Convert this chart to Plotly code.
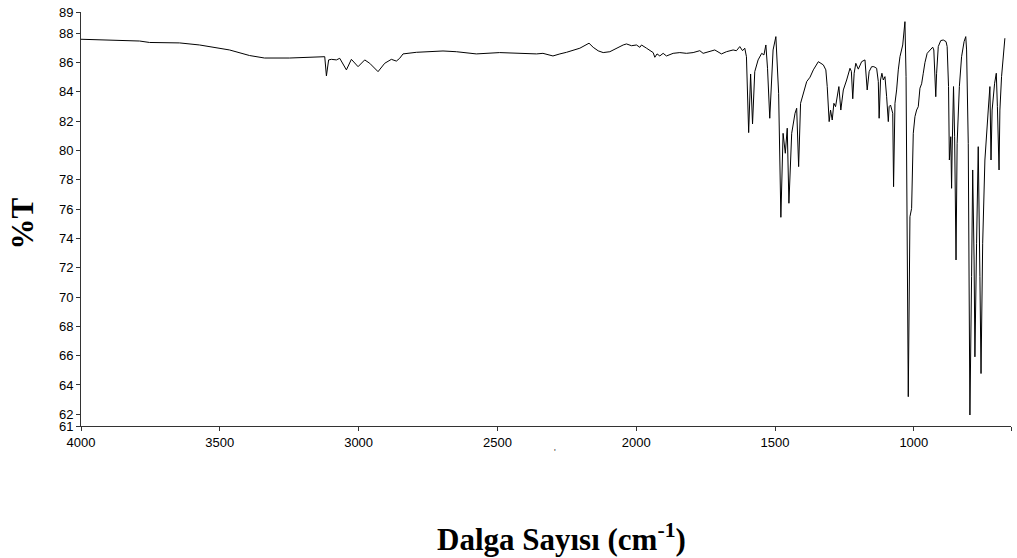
import plotly.graph_objects as go

# Wavenumber (cm-1) and transmittance (%T)
wavenumber = [
    4000, 3789, 3753, 3645, 3573, 3465, 3393, 3339, 3249, 3140, 3122, 3116, 3108, 3098,
    3080, 3068, 3044, 3026, 3002, 2978, 2960, 2930, 2906, 2882, 2864, 2852, 2840, 2792,
    2696, 2648, 2600, 2576, 2492, 2395, 2359, 2336, 2300, 2275, 2251, 2203, 2170, 2155,
    2137, 2119, 2095, 2047, 2035, 2017, 1999, 1987, 1981, 1963, 1939, 1933, 1925, 1915,
    1903, 1891, 1867, 1843, 1819, 1795, 1771, 1759, 1735, 1717, 1693, 1675, 1651, 1639,
    1627, 1617, 1609, 1603, 1595, 1588, 1581, 1573, 1561, 1548, 1540, 1533, 1527, 1519,
    1507, 1497, 1487, 1479, 1471, 1463, 1456, 1450, 1440, 1428, 1422, 1415, 1408, 1399,
    1386, 1374, 1362, 1344, 1326, 1317, 1312, 1305, 1300, 1294, 1288, 1282, 1276, 1270,
    1263, 1254, 1242, 1230, 1225, 1220, 1215, 1209, 1200, 1188, 1176, 1168, 1161, 1152,
    1144, 1134, 1128, 1125, 1120, 1115, 1110, 1104, 1098, 1092, 1089, 1084, 1076, 1073,
    1068, 1062, 1056, 1050, 1040, 1036, 1032, 1028, 1024, 1020, 1014, 1008, 1002, 996,
    990, 984, 978, 972, 966, 960, 952, 942, 932, 928, 924, 921, 918, 912, 903, 894, 884,
    880, 875, 872, 867, 864, 862, 857, 853, 848, 844, 836, 828, 819, 813, 810, 804, 798,
    792, 788, 783, 780, 774, 768, 762, 758, 752, 744, 732, 726, 722, 718, 709, 703, 699,
    693, 690, 684, 672,
]
transmittance = [
    87.59, 87.47, 87.37, 87.34, 87.20, 86.86, 86.48, 86.31, 86.31, 86.38, 86.40, 85.09, 86.18, 86.22,
    86.18, 86.29, 85.50, 86.22, 85.72, 86.18, 85.95, 85.38, 85.95, 86.22, 86.10, 86.29, 86.59, 86.70,
    86.79, 86.74, 86.63, 86.59, 86.68, 86.63, 86.59, 86.63, 86.45, 86.59, 86.70, 86.98, 87.32, 87.04,
    86.80, 86.68, 86.74, 87.20, 87.27, 87.15, 87.20, 87.04, 87.20, 86.98, 86.68, 86.36, 86.59, 86.45,
    86.63, 86.45, 86.63, 86.68, 86.63, 86.68, 86.81, 86.63, 86.74, 86.86, 86.59, 86.74, 86.86, 86.81,
    87.09, 86.81, 86.98, 86.40, 81.22, 85.22, 81.81, 85.38, 86.18, 86.63, 86.52, 87.20, 85.61, 82.20,
    86.86, 87.77, 83.90, 75.44, 81.17, 79.81, 81.52, 76.40, 81.17, 82.54, 82.88, 78.90, 83.22, 83.90,
    84.70, 85.00, 85.50, 86.06, 85.84, 85.50, 84.36, 81.97, 82.76, 82.08, 83.22, 82.99, 83.67, 84.36,
    82.76, 84.13, 84.81, 85.61, 85.40, 83.53, 85.27, 85.95, 85.55, 86.06, 86.18, 84.13, 85.38, 85.72,
    85.72, 85.61, 84.70, 82.20, 84.81, 85.27, 84.81, 85.04, 83.67, 81.97, 82.99, 83.10, 82.54, 77.53,
    83.22, 84.13, 85.50, 86.40, 87.20, 88.00, 88.79, 85.04, 73.67, 63.20, 75.48, 76.05, 81.17, 82.31,
    82.76, 82.99, 84.25, 84.55, 85.27, 86.00, 86.63, 86.86, 87.05, 86.86, 85.50, 83.67, 85.27, 87.09,
    87.50, 87.54, 87.43, 87.09, 84.36, 79.35, 80.94, 77.42, 80.03, 84.36, 80.94, 72.53, 80.49, 84.36,
    86.40, 87.43, 87.77, 86.86, 80.49, 61.95, 71.39, 78.67, 72.53, 65.92, 73.67, 80.26, 71.39, 64.78,
    73.67, 79.35, 82.76, 84.36, 79.35, 82.76, 84.59, 85.27, 82.99, 78.67, 82.76, 85.04, 87.66,
]

x_tick_vals = [4000, 3500, 3000, 2500, 2000, 1500, 1000, 650]
x_tick_text = ["4000", "3500", "3000", "2500", "2000", "1500", "1000", "650"]
y_tick_vals = [61.2, 62, 64, 66, 68, 70, 72, 74, 76, 78, 80, 82, 84, 86, 88, 89.45]
y_tick_text = ["61", "62", "64", "66", "68", "70", "72", "74", "76", "78", "80",
               "82", "84", "86", "88", "89"]

x_title = "<b>Dalga Sayısı (cm<sup>-1</sup>)</b>"
y_title = "<b>%T</b>"
stray_mark = "'"

fig = go.Figure()
fig.add_trace(go.Scatter(
    x=wavenumber, y=transmittance, mode="lines",
    line=dict(color="black", width=1), hoverinfo="x+y", showlegend=False,
))

tick_font = dict(family="Arial, Liberation Sans, sans-serif", size=13, color="black")
title_font = dict(family="Times New Roman, Liberation Serif, serif", size=31, color="black")

fig.update_layout(
    width=1017, height=558,
    margin=dict(l=81, r=6, t=12, b=132),
    paper_bgcolor="white", plot_bgcolor="white",
    xaxis=dict(
        range=[4000, 650], showgrid=False, zeroline=False,
        showline=True, linecolor="#333", linewidth=1,
        ticks="outside", ticklen=4, tickcolor="#333",
        tickvals=x_tick_vals, ticktext=x_tick_text, tickfont=tick_font,
        automargin=False,
    ),
    yaxis=dict(
        range=[61.2, 89.45], showgrid=False, zeroline=False,
        showline=True, linecolor="#333", linewidth=1,
        ticks="outside", ticklen=4, tickcolor="#333",
        tickvals=y_tick_vals, ticktext=y_tick_text, tickfont=tick_font,
        automargin=False,
    ),
    annotations=[
        dict(text=x_title, xref="paper", yref="paper", x=0.517, y=-0.27,
             xanchor="center", yanchor="middle", showarrow=False, font=title_font),
        dict(text=y_title, xref="paper", yref="paper", x=-0.063, y=0.49,
             xanchor="center", yanchor="middle", showarrow=False, textangle=-90,
             font=title_font),
        dict(text=stray_mark, xref="paper", yref="paper", x=0.5097, y=-0.063,
             xanchor="center", yanchor="middle", showarrow=False,
             font=dict(family="Arial, Liberation Sans, sans-serif", size=9, color="#333")),
    ],
)

fig.write_html(
    "out.html",
    config={"displayModeBar": False},
    post_script="document.body.style.margin='0';document.body.style.padding='0';",
)
